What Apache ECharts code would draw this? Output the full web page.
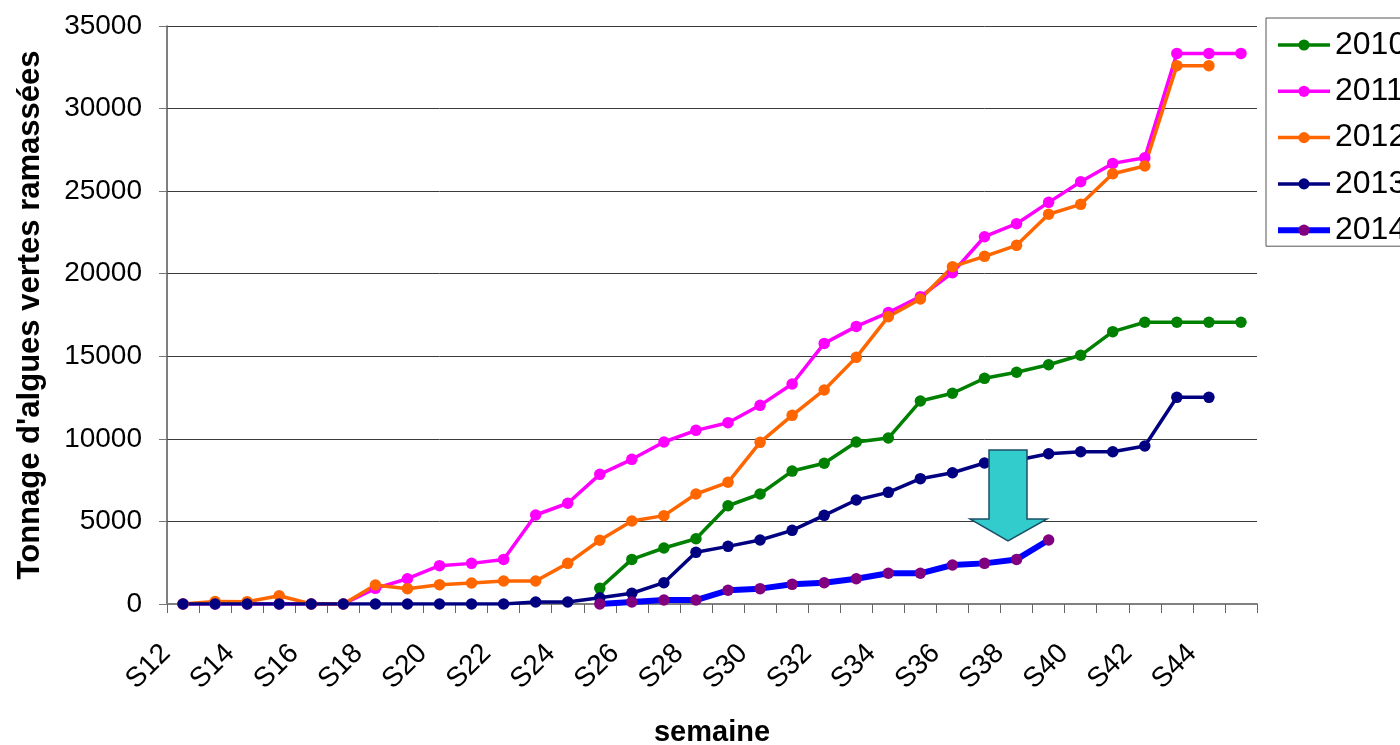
<!DOCTYPE html>
<html>
<head>
<meta charset="utf-8">
<title>Tonnage d'algues vertes ramassées</title>
<script src="https://cdn.jsdelivr.net/npm/echarts@6/dist/echarts.min.js"></script>
<style>
  html, body { margin: 0; padding: 0; background: #fff; }
  #chart { width: 1400px; height: 745px; }
</style>
</head>
<body>
<div id="chart"></div>
<script>
// Weeks S12 .. S45
const weeks = ['S12','S13','S14','S15','S16','S17','S18','S19','S20','S21','S22','S23','S24','S25','S26','S27','S28','S29','S30','S31','S32','S33','S34','S35','S36','S37','S38','S39','S40','S41','S42','S43','S44','S45'];

// Cumulative tonnage per year (null = no data for that week)
const y2010 = [null,null,null,null,null,null,null,null,null,null,null,null,null,
  950,2700,3390,3950,5950,6660,8050,8520,9810,10050,12290,12760,13665,14030,14490,15060,16490,17060,17060,17060,17060];
const y2011 = [0,0,0,0,0,0,
  950,1530,2320,2460,2700,5390,6100,7850,8760,9810,10515,10980,12030,13320,15780,16810,17650,18610,20060,22240,23030,24320,25570,26680,27020,33340,33340,33340];
const y2012 = [0,150,140,500,0,0,1150,930,1170,1270,1390,1390,2460,3860,5025,5350,6660,7370,9790,11425,12960,14935,17400,18470,20425,21050,21720,23600,24200,26055,26520,32600,32600,null];
const y2013 = [0,0,0,0,0,0,0,0,0,0,0,
  120,120,380,650,1290,3130,3490,3875,4460,5370,6300,6760,7590,7950,8540,8700,9100,9220,9220,9570,12515,12515,null];
const y2014 = [null,null,null,null,null,null,null,null,null,null,null,null,null,
  0,120,240,240,830,930,1190,1290,1530,1860,1860,2360,2460,2700,3875,null,null,null,null,null,null];

const yTicks = { min: 0, max: 35000, step: 5000 };

const FONT = "'Liberation Sans', Arial, sans-serif";

function lineSeries(name, data, lineColor, markerColor, width) {
  return {
    name: name,
    type: 'line',
    data: data,
    symbol: 'circle',
    symbolSize: 11.5,
    showAllSymbol: true,
    connectNulls: false,
    lineStyle: { color: lineColor, width: width },
    itemStyle: { color: markerColor, borderWidth: 0 },
    emphasis: { disabled: true }
  };
}

const chart = echarts.init(document.getElementById('chart'), null, { renderer: 'canvas' });

chart.setOption({
  animation: false,
  backgroundColor: '#ffffff',
  textStyle: { fontFamily: FONT },
  grid: { left: 167, right: 143, top: 26, bottom: 141, containLabel: false, outerBoundsMode: 'none' },
  legend: {
    orient: 'vertical',
    left: 1266,
    top: 18,
    padding: [11, 10, 0, 9],
    borderColor: '#555',
    borderWidth: 1,
    itemWidth: 52,
    itemHeight: 14,
    itemGap: 14.3,
    lineStyle: { width: 3.5 },
    textStyle: { fontSize: 32, color: '#000', fontFamily: FONT },
    data: [
      { name: '2010' },
      { name: '2011' },
      { name: '2012' },
      { name: '2013' },
      { name: '2014', lineStyle: { width: 6 } }
    ]
  },
  xAxis: {
    type: 'category',
    data: weeks,
    boundaryGap: true,
    name: 'semaine',
    nameLocation: 'middle',
    nameGap: 114,
    nameMoveOverlap: false,
    nameTextStyle: { fontSize: 29, fontWeight: 'bold', color: '#000', fontFamily: FONT },
    axisLine: { lineStyle: { color: '#808080', width: 2 } },
    axisTick: { show: true, interval: 0, length: 9, lineStyle: { color: '#666', width: 1 } },
    axisLabel: {
      interval: 1, rotate: 45, fontSize: 28, color: '#000', margin: 28,
      padding: [0, 24, 0, 0], fontFamily: FONT
    },
    splitLine: { show: false }
  },
  yAxis: {
    type: 'value',
    min: yTicks.min,
    max: yTicks.max,
    interval: yTicks.step,
    name: "Tonnage d'algues vertes ramassées",
    nameLocation: 'middle',
    nameGap: 121,
    nameMoveOverlap: false,
    nameTextStyle: { fontSize: 31, fontWeight: 'bold', color: '#000', fontFamily: FONT },
    axisLine: { show: true, lineStyle: { color: '#555', width: 1.5 } },
    axisTick: { show: true, length: 8, lineStyle: { color: '#777', width: 1 } },
    axisLabel: { fontSize: 28, color: '#000', margin: 25, fontFamily: FONT, formatter: v => String(v) },
    splitLine: { show: true, lineStyle: { color: '#3a3a3a', width: 1 } }
  },
  series: [
    lineSeries('2010', y2010, '#008000', '#008000', 3.5),
    lineSeries('2011', y2011, '#ff00ff', '#ff00ff', 3.5),
    lineSeries('2012', y2012, '#ff6600', '#ff6600', 3.5),
    lineSeries('2013', y2013, '#000080', '#000080', 3.5),
    lineSeries('2014', y2014, '#0000ff', '#800080', 6)
  ],
  graphic: [{
    // downward block arrow annotation
    type: 'polygon',
    z: 100,
    shape: {
      points: [[989, 450], [1027, 450], [1027, 519], [1047, 519], [1008, 541], [970, 519], [989, 519]]
    },
    style: { fill: '#33cccc', stroke: '#1b5068', lineWidth: 1.5 }
  }]
});
</script>
</body>
</html>
